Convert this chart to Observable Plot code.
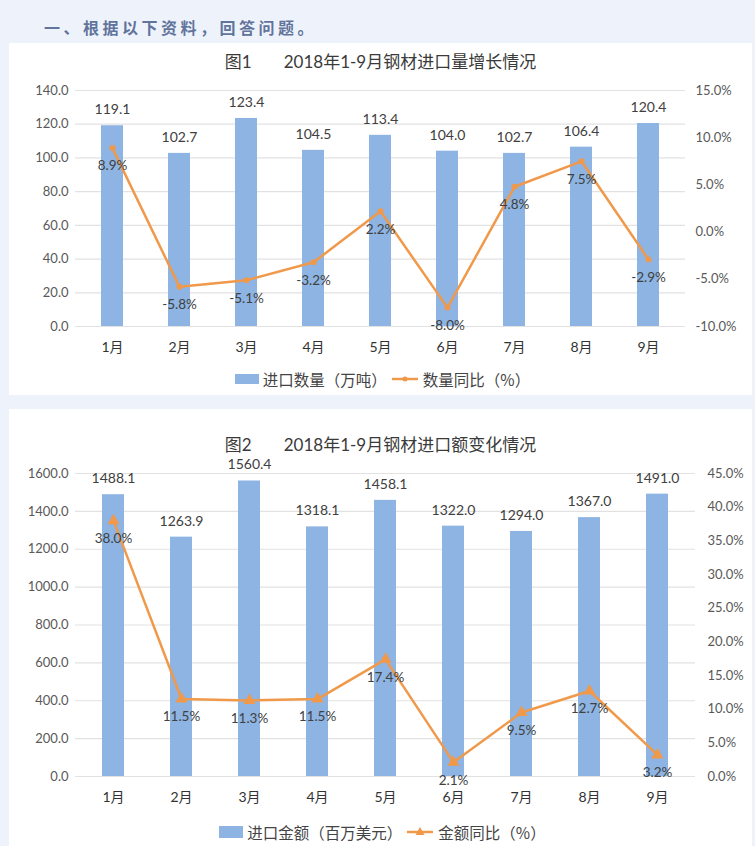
<!DOCTYPE html>
<html><head><meta charset="utf-8">
<script src="https://cdn.jsdelivr.net/npm/d3@7"></script>
<script src="https://cdn.jsdelivr.net/npm/@observablehq/plot@0.6"></script>
<style>
body{margin:0;background:#eef3fb;width:755px;height:846px;overflow:hidden;position:relative;font-family:Lato,"Noto Sans CJK SC",sans-serif}
.hdr{position:absolute;left:44px;top:15px;font-size:16px;line-height:24px;font-weight:bold;color:#62739c;letter-spacing:3.5px;font-family:"Noto Sans CJK SC",sans-serif}
.panel{position:absolute;left:9px;width:743px;background:#fff}
.title{position:absolute;left:0;width:100%;text-align:center;font-size:17px;line-height:20px;color:#3a3a3a;white-space:pre;font-family:Lato,"Noto Sans CJK SC",sans-serif}
.title .gap{display:inline-block;width:32px}
.legend{position:absolute;left:0;width:100%;display:flex;justify-content:center;align-items:center;font-size:15.5px;line-height:20px;color:#444;font-family:"Noto Sans CJK SC",sans-serif}
.legend svg{margin:0 4px}
.chart{position:absolute;left:0;top:0}
</style></head>
<body>
<div class="hdr">一、根据以下资料，回答问题。</div>
<div class="panel" id="p1" style="top:43px;height:352px">
  <div class="title" style="top:9px">图1<span class="gap"></span>2018年1-9月钢材进口量增长情况</div>
  <div class="chart" id="c1"></div>
  <div class="legend" style="top:326px"><svg width="24" height="12"><rect x="0" y="1" width="24" height="10" fill="#8db4e2"/></svg><span>进口数量（万吨）</span><svg width="28" height="12"><line x1="1" y1="6" x2="27" y2="6" stroke="#f0994a" stroke-width="2.5"/><circle cx="14" cy="6" r="2.5" fill="#f0994a"/></svg><span>数量同比（%）</span></div>
</div>
<div class="panel" id="p2" style="top:409px;height:437px">
  <div class="title" style="top:26px">图2<span class="gap"></span>2018年1-9月钢材进口额变化情况</div>
  <div class="chart" id="c2"></div>
  <div class="legend" style="top:413px"><svg width="24" height="14"><rect x="0" y="1" width="24" height="12" fill="#8db4e2"/></svg><span>进口金额（百万美元）</span><svg width="28" height="14"><line x1="1" y1="7" x2="27" y2="7" stroke="#f0994a" stroke-width="2.5"/><path d="M14,2 L18.5,10 L9.5,10 Z" fill="#f0994a"/></svg><span>金额同比（%）</span></div>
</div>
<script>
const months = ["1月","2月","3月","4月","5月","6月","7月","8月","9月"];
const qty = [119.1, 102.7, 123.4, 104.5, 113.4, 104.0, 102.7, 106.4, 120.4];
const qtyYoy = [8.9, -5.8, -5.1, -3.2, 2.2, -8.0, 4.8, 7.5, -2.9];
const qtyTicks = [0, 20, 40, 60, 80, 100, 120, 140];
const qtyPctTicks = [-10, -5, 0, 5, 10, 15];
const amt = [1488.1, 1263.9, 1560.4, 1318.1, 1458.1, 1322.0, 1294.0, 1367.0, 1491.0];
const amtYoy = [38.0, 11.5, 11.3, 11.5, 17.4, 2.1, 9.5, 12.7, 3.2];
const amtTicks = [0, 200, 400, 600, 800, 1000, 1200, 1400, 1600];
const amtPctTicks = [0, 5, 10, 15, 20, 25, 30, 35, 40, 45];

const BAR = "#8db4e2", LINE = "#f0994a", GRID = "#e2e2e2", TXT = "#404040", AX = "#595959";
const FONT = 'Lato, "Noto Sans CJK SC", sans-serif';

function chart({values, yoy, ticks, pctTicks, width, height, mt, mr, mb, ml, symbol, r, rightPad, pi}) {
  const yMax = ticks[ticks.length - 1];
  const pMin = pctTicks[0], pMax = pctTicks[pctTicks.length - 1];
  const toLeft = p => (p - pMin) / (pMax - pMin) * yMax;
  const fromLeft = v => v / yMax * (pMax - pMin) + pMin;
  const data = months.map((m, i) => ({m, v: values[i], p: yoy[i], pl: toLeft(yoy[i])}));
  return Plot.plot({
    width, height, marginTop: mt, marginRight: mr, marginBottom: mb, marginLeft: ml,
    style: {fontFamily: FONT, fontSize: "13px", color: AX, background: "transparent", overflow: "visible"},
    x: {domain: months, paddingInner: pi, paddingOuter: pi / 2, label: null},
    y: {domain: [0, yMax], label: null},
    marks: [
      Plot.gridY(ticks, {stroke: GRID, strokeOpacity: 1, strokeWidth: 1.2}),
      Plot.barY(data, {x: "m", y: "v", fill: BAR}),
      Plot.axisY({ticks, tickSize: 0, tickPadding: 7, tickFormat: d => d.toFixed(1), label: null, fill: AX}),
      Plot.axisY({anchor: "right", ticks: pctTicks.map(toLeft), tickSize: 0, tickPadding: rightPad,
        tickFormat: d => (Math.round(fromLeft(d) * 10) / 10).toFixed(1) + "%", label: null, fill: AX}),
      Plot.axisX({tickSize: 0, tickPadding: 16, label: null, fontSize: 14, fill: "#333"}),
      Plot.line(data, {x: "m", y: "pl", stroke: LINE, strokeWidth: 2.5}),
      Plot.dot(data, {x: "m", y: "pl", fill: LINE, stroke: null, symbol, r}),
      Plot.text(data, {x: "m", y: "v", text: d => d.v.toFixed(1), dy: -16, fontSize: 14, fill: TXT}),
      Plot.text(data, {x: "m", y: "pl", text: d => d.p.toFixed(1) + "%", dy: 18, fontSize: 13.5, fill: TXT})
    ]
  });
}

document.getElementById("c1").append(chart({
  values: qty, yoy: qtyYoy, ticks: qtyTicks, pctTicks: qtyPctTicks,
  width: 743, height: 318, mt: 47, mr: 67, mb: 35, ml: 66, symbol: "circle", r: 3, rightPad: 10, pi: 0.675
}));
document.getElementById("c2").append(chart({
  values: amt, yoy: amtYoy, ticks: amtTicks, pctTicks: amtPctTicks,
  width: 743, height: 402, mt: 64, mr: 57, mb: 35, ml: 66, symbol: "triangle", r: 4.5, rightPad: 12, pi: 0.68
}));
</script>
</body></html>
